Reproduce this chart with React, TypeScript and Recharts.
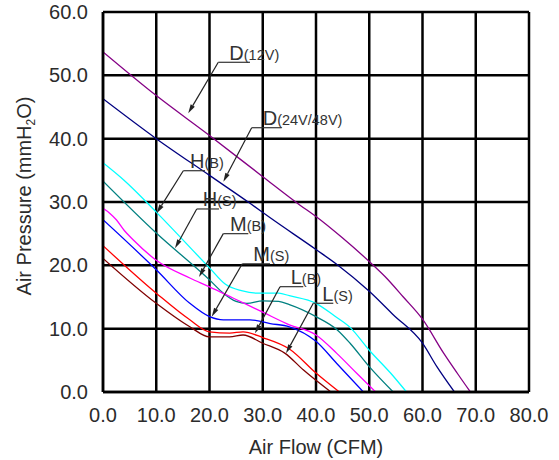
import React from 'react';
import { LineChart, Line, XAxis, YAxis, CartesianGrid, ReferenceLine, ReferenceDot } from 'recharts';

type Pt = [number, number];

const flowTicks = [0, 10, 20, 30, 40, 50, 60, 70, 80];
const pressureTicks = [0, 10, 20, 30, 40, 50, 60];

// [air flow CFM, pressure mmH2O]
const d12v: Pt[] = [[0, 53.7], [10, 46.8], [20, 40.5], [30, 34.0], [37, 29.5], [40, 27.7], [45, 24.3], [50, 20.6], [53, 18.2], [56.4, 15.0], [60, 11.5], [64, 6.1], [66.5, 3.0], [69, 0]];
const d24v: Pt[] = [[0, 46.3], [10, 40.0], [20, 34.2], [27.6, 29.8], [31.4, 27.5], [40, 22.5], [44, 20.1], [50, 15.9], [54.5, 12.2], [60, 7.7], [62.7, 4.0], [66, 0]];
const hB: Pt[] = [[0, 36.2], [4, 33.4], [10, 28.4], [20, 19.6], [23, 17.0], [26, 16.0], [29, 15.6], [33, 15.6], [35, 15.2], [40, 14.0], [43.5, 12.0], [46.4, 10.2], [50, 6.6], [54, 3.0], [57, 0]];
const hS: Pt[] = [[0, 33.3], [10, 25.1], [20, 17.7], [22.6, 15.6], [25, 14.3], [27, 14.0], [30, 14.4], [33, 14.3], [35, 13.8], [40, 11.9], [44, 9.8], [46.4, 7.7], [50, 4.0], [54.5, 0]];
const mB: Pt[] = [[0, 29.0], [1.3, 28.2], [2.5, 27.2], [4, 25.5], [5.7, 24.0], [10, 20.8], [16.3, 18.0], [20, 16.6], [24.5, 14.8], [30, 12.6], [35, 10.6], [40, 9.0], [43.9, 6.1], [47.6, 3.0], [51.2, 0]];
const mS: Pt[] = [[0, 27.2], [10, 19.3], [16.3, 14.0], [20, 11.9], [22.6, 11.4], [27.6, 11.4], [31.4, 10.8], [35, 10.3], [40, 8.0], [43.9, 4.5], [48.9, 0]];
const lB: Pt[] = [[0, 23.1], [10, 15.6], [16.3, 11.4], [20, 9.5], [23.8, 9.3], [26.3, 9.5], [30, 8.6], [35, 6.8], [40, 3.0], [44.4, 0]];
const lS: Pt[] = [[0, 21.1], [10, 14.0], [16.3, 10.3], [20, 8.7], [23.8, 8.7], [26.3, 9.0], [30, 7.7], [34.2, 6.1], [37.6, 3.5], [42.8, 0]];

const curves = [
  { name: 'D(12V)', pts: d12v, color: '#850085' },
  { name: 'D(24V/48V)', pts: d24v, color: '#000080' },
  { name: 'H(B)', pts: hB, color: '#00ffff' },
  { name: 'H(S)', pts: hS, color: '#008080' },
  { name: 'M(B)', pts: mB, color: '#ff00ff' },
  { name: 'M(S)', pts: mS, color: '#0000ff' },
  { name: 'L(B)', pts: lB, color: '#ff0000' },
  { name: 'L(S)', pts: lS, color: '#800000' },
];

// callout placement in data units: arrow tip, elbow of the leader, label start, underline end
const callouts = [
  { big: 'D', small: '(12V)', tip: [16.0, 44.0], elbow: [21.65, 52.06], textX: 23.72, endX: 27.6 },
  { big: 'D', small: '(24V/48V)', tip: [22.6, 33.2], elbow: [27.92, 41.73], textX: 29.99, endX: 33.56 },
  { big: 'H', small: '(B)', tip: [10.08, 28.22], elbow: [15.08, 34.94], textX: 16.34, endX: 19.15 },
  { big: 'H', small: '(S)', tip: [13.52, 22.69], elbow: [17.6, 28.9], textX: 18.72, endX: 21.78 },
  { big: 'M', small: '(B)', tip: [18.03, 18.16], elbow: [22.59, 25.0], textX: 23.85, endX: 27.29 },
  { big: 'M', small: '(S)', tip: [20.41, 11.89], elbow: [26.16, 20.24], textX: 28.23, endX: 31.36 },
  { big: 'L', small: '(B)', tip: [28.54, 9.27], elbow: [33.24, 16.63], textX: 35.25, endX: 37.61 },
  { big: 'L', small: '(S)', tip: [34.37, 6.11], elbow: [39.49, 14.01], textX: 41.18, endX: 43.25 },
];

const FONT = '"Liberation Sans", Arial, Helvetica, sans-serif';

const ArrowLine = (props: any) => {
  const { x1, y1, x2, y2 } = props;
  const dx = x1 - x2;
  const dy = y1 - y2;
  const len = Math.sqrt(dx * dx + dy * dy) || 1;
  const ux = dx / len;
  const uy = dy / len;
  const bx = x1 - ux * 9;
  const by = y1 - uy * 9;
  const px = -uy * 2.4;
  const py = ux * 2.4;
  return (
    <g>
      <line x1={x2} y1={y2} x2={bx} y2={by} stroke="#222" strokeWidth={1.2} />
      <polygon points={`${x1},${y1} ${bx + px},${by + py} ${bx - px},${by - py}`} fill="#222" />
    </g>
  );
};

const YTitle = (props: any) => {
  const vb = props.viewBox;
  const x = vb.x + 31;
  const y = vb.y + vb.height / 2 - 6;
  return (
    <text x={x} y={y} transform={`rotate(-90, ${x}, ${y})`} textAnchor="middle" fill="#2b2b2b" fontSize={20} fontFamily={FONT}>
      Air Pressure (mmH
      <tspan fontSize={12} dy={4}>2</tspan>
      <tspan dy={-4}>O)</tspan>
    </text>
  );
};

export default function App() {
  return (
    <div style={{ position: 'absolute', left: 0, top: 0, background: '#fff' }}>
      <LineChart width={559} height={460} margin={{ top: 12, right: 30, left: 0, bottom: 0 }}>
        <CartesianGrid stroke="#000" strokeWidth={2.5} />
        <XAxis
          dataKey="x"
          type="number"
          domain={[0, 80]}
          ticks={flowTicks}
          allowDataOverflow
          height={68}
          tickLine={false}
          tickMargin={10}
          axisLine={{ stroke: '#000', strokeWidth: 2.5 }}
          tickFormatter={(v: number) => v.toFixed(1)}
          tick={{ fill: '#2b2b2b', fontSize: 20, fontFamily: FONT }}
          label={{ value: 'Air Flow (CFM)', position: 'insideBottom', offset: 6, fill: '#2b2b2b', fontSize: 20, fontFamily: FONT }}
        />
        <YAxis
          dataKey="y"
          type="number"
          domain={[0, 60]}
          ticks={pressureTicks}
          allowDataOverflow
          width={103}
          tickLine={false}
          tickMargin={9}
          axisLine={{ stroke: '#000', strokeWidth: 2.5 }}
          tickFormatter={(v: number) => v.toFixed(1)}
          tick={{ fill: '#2b2b2b', fontSize: 20, fontFamily: FONT }}
          label={{ content: YTitle }}
        />
        {curves.map((c) => (
          <Line
            key={c.name}
            name={c.name}
            data={c.pts.map(([x, y]) => ({ x, y }))}
            dataKey="y"
            type="monotone"
            stroke={c.color}
            strokeWidth={1.3}
            dot={false}
            activeDot={false}
            isAnimationActive={false}
          />
        ))}
        {callouts.map((c, i) => (
          <ReferenceLine
            key={`lead${i}`}
            segment={[{ x: c.tip[0], y: c.tip[1] }, { x: c.elbow[0], y: c.elbow[1] }]}
            shape={ArrowLine}
          />
        ))}
        {callouts.map((c, i) => (
          <ReferenceLine
            key={`ul${i}`}
            segment={[{ x: c.elbow[0], y: c.elbow[1] }, { x: c.endX, y: c.elbow[1] }]}
            stroke="#333"
            strokeWidth={1.2}
          />
        ))}
        {callouts.map((c, i) => (
          <ReferenceDot
            key={`tx${i}`}
            x={c.textX}
            y={c.elbow[1]}
            r={0}
            shape={(p: any) => (
              <text x={p.cx} y={p.cy - 2.5} fill="#333" fontFamily={FONT}>
                <tspan fontSize={20}>{c.big}</tspan>
                <tspan fontSize={14.5}>{c.small}</tspan>
              </text>
            )}
          />
        ))}
      </LineChart>
    </div>
  );
}
